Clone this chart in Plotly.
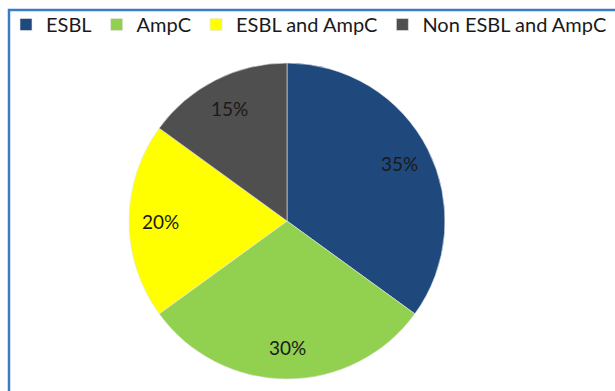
import math
import plotly.graph_objects as go

categories = ["ESBL", "AmpC", "ESBL and AmpC", "Non ESBL and AmpC"]
values = [35, 30, 20, 15]
colors = ["#1F497D", "#92D050", "#FFFF00", "#4F4F4F"]

W, H = 615, 391
cx, cy, r = 287, 221, 158
FONT = "Lato, Open Sans, sans-serif"

fig = go.Figure(go.Pie(
    labels=categories,
    values=values,
    sort=False,
    direction="clockwise",
    rotation=0,
    marker=dict(colors=colors, line=dict(color="#e6e6e6", width=0.6)),
    textinfo="none",
    domain=dict(x=[(cx - r) / W, (cx + r) / W],
                y=[(H - cy - r) / H, (H - cy + r) / H]),
    hoverinfo="label+percent",
))

# percentage labels placed at ~0.8 of the radius, at each slice's mid-angle
total = sum(values)
annotations = []
cum = 0
for v in values:
    mid = (cum + v / 2) / total * 2 * math.pi
    cum += v
    px = cx + 0.8 * r * math.sin(mid)
    py = cy - 0.8 * r * math.cos(mid)
    annotations.append(dict(
        x=px / W, y=1 - py / H, xref="paper", yref="paper",
        text=f"{round(v / total * 100)}%", showarrow=False,
        font=dict(family=FONT, size=19, color="#1a1a1a"),
        xanchor="center", yanchor="middle",
    ))

fig.update_layout(
    width=W, height=H,
    margin=dict(l=0, r=0, t=0, b=0),
    paper_bgcolor="white",
    plot_bgcolor="white",
    showlegend=True,
    legend=dict(
        orientation="h",
        x=6 / W, xanchor="left",
        y=1 - 5 / H, yanchor="top",
        font=dict(family=FONT, size=20, color="#1a1a1a"),
        traceorder="normal",
        itemclick=False,
        bgcolor="rgba(0,0,0,0)",
    ),
    annotations=annotations,
    shapes=[dict(
        type="rect", xref="paper", yref="paper",
        x0=9 / W, x1=1.02, y0=-0.02, y1=1 - 10 / H,
        line=dict(color="#3B7DC4", width=2.5),
        fillcolor="rgba(0,0,0,0)", layer="below",
    )],
)

fig.write_html("out.html")
